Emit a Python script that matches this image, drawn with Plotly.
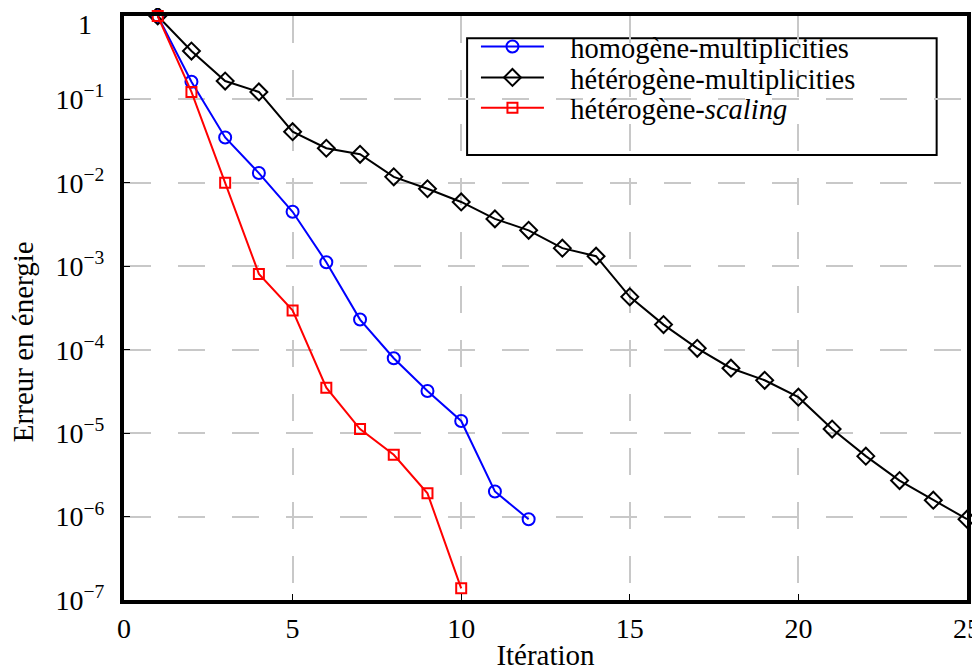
import plotly.graph_objects as go

# Données
iter_homo = list(range(1, 13))
err_homo = [1.0, 0.163, 0.035, 0.0131, 0.0045, 0.00112, 2.3e-4, 7.9e-5, 3.2e-5, 1.4e-5, 2.0e-6, 9.3e-7]

iter_hetero = list(range(1, 26))
err_hetero = [1.0, 0.38, 0.166, 0.123, 0.041, 0.026, 0.022, 0.0118, 0.0085, 0.0059,
              0.0037, 0.0027, 0.00165, 0.00132, 4.3e-4, 2.0e-4, 1.04e-4, 6.0e-5, 4.3e-5,
              2.7e-5, 1.12e-5, 5.3e-6, 2.7e-6, 1.57e-6, 9.3e-7]

iter_scaling = list(range(1, 11))
err_scaling = [1.0, 0.123, 0.01, 8.1e-4, 2.96e-4, 3.5e-5, 1.12e-5, 5.5e-6, 1.9e-6, 1.38e-7]

y_tickvals = [1, 1e-1, 1e-2, 1e-3, 1e-4, 1e-5, 1e-6, 1e-7]
# le "1" du haut est placé à part (décalé vers le bas comme dans l'original)
y_ticktext = ["", "10<sup>−1</sup>", "10<sup>−2</sup>", "10<sup>−3</sup>",
              "10<sup>−4</sup>", "10<sup>−5</sup>", "10<sup>−6</sup>", "10<sup>−7</sup>"]
x_tickvals = [0, 5, 10, 15, 20, 25]

police = "Liberation Serif, Times New Roman, serif"

fig = go.Figure()
fig.add_trace(go.Scatter(x=iter_homo, y=err_homo, mode="lines+markers",
                         name="   homogène-multiplicities", legend="legend",
                         line=dict(color="blue", width=2),
                         marker=dict(symbol="circle-open", size=12, color="blue",
                                     line=dict(width=2)),
                         cliponaxis=False))
fig.add_trace(go.Scatter(x=iter_hetero, y=err_hetero, mode="lines+markers",
                         name="   hétérogène-multiplicities", legend="legend2",
                         line=dict(color="black", width=2),
                         marker=dict(symbol="diamond-open", size=13, color="black",
                                     line=dict(width=2)),
                         cliponaxis=False))
fig.add_trace(go.Scatter(x=iter_scaling, y=err_scaling, mode="lines+markers",
                         name="   hétérogène-<i>scaling</i>", legend="legend3",
                         line=dict(color="red", width=2),
                         marker=dict(symbol="square-open", size=10, color="red",
                                     line=dict(width=2)),
                         cliponaxis=False))

# cadre de la légende
fig.add_shape(type="rect", xref="paper", yref="paper",
              x0=0.407, x1=0.964, y0=0.762, y1=0.962,
              line=dict(color="black", width=2), fillcolor="white", layer="below")

# titre de l'axe y (décalé vers le bas comme dans l'original)
fig.add_annotation(text="Erreur en énergie", xref="paper", yref="paper",
                   x=-0.1195, y=0.442, xanchor="center", yanchor="middle",
                   textangle=-90, showarrow=False,
                   font=dict(family=police, size=29, color="black"))
fig.add_annotation(text="1", xref="paper", yref="paper",
                   x=-0.0463, y=0.9846, xanchor="center", yanchor="middle",
                   showarrow=False, font=dict(family=police, size=28, color="black"))

fig.update_xaxes(range=[0, 25], tickvals=x_tickvals, ticks="inside", ticklen=6,
                 tickcolor="black", showline=True, linewidth=4, linecolor="black",
                 mirror=True, showgrid=True, gridcolor="#c8c8c8", gridwidth=2,
                 griddash="27px,27px", zeroline=False, automargin=False,
                 ticklabeloverflow="allow",
                 tickfont=dict(family=police, size=28, color="black"),
                 title=dict(text="Itération", font=dict(family=police, size=29, color="black"),
                            standoff=6))
fig.update_yaxes(type="log", range=[-7, 0], tickvals=y_tickvals, ticktext=y_ticktext,
                 ticks="inside", ticklen=6, tickcolor="black", showline=True,
                 linewidth=4, linecolor="black", mirror=True, showgrid=True,
                 gridcolor="#c8c8c8", gridwidth=2, griddash="27px,27px",
                 zeroline=False, automargin=False, ticklabelstandoff=10,
                 ticklabeloverflow="allow",
                 tickfont=dict(family=police, size=28, color="black"))

leg = dict(xanchor="left", yanchor="middle", bgcolor="rgba(0,0,0,0)", borderwidth=0,
           font=dict(family=police, size=28.5, color="black"), itemwidth=63)
# la page ajoute une marge de 8 px : figure un peu plus petite que la fenêtre
fig.update_layout(
    width=972, height=663,
    margin=dict(l=116, r=13, t=8, b=71),
    paper_bgcolor="white", plot_bgcolor="white",
    font=dict(family=police, color="black"),
    showlegend=True,
    legend=dict(leg, x=0.4175, y=0.947),
    legend2=dict(leg, x=0.4175, y=0.894),
    legend3=dict(leg, x=0.4175, y=0.842),
)

fig.write_html("out.html")
